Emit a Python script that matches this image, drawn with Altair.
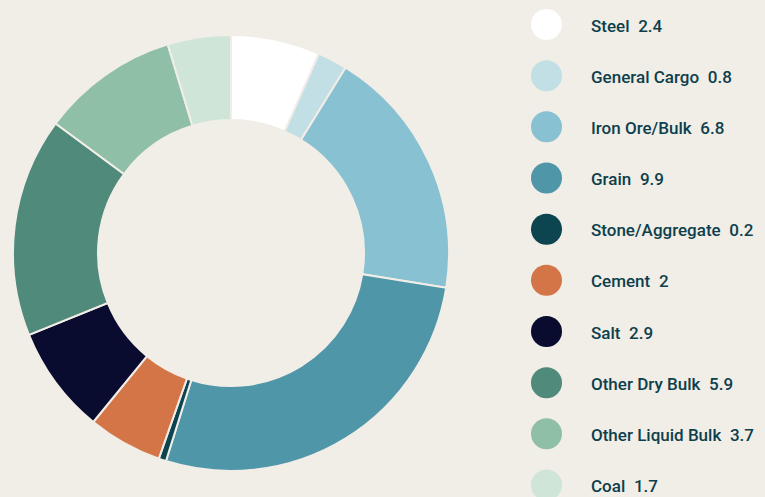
import altair as alt
import pandas as pd

categories = ["Steel", "General Cargo", "Iron Ore/Bulk", "Grain", "Stone/Aggregate",
              "Cement", "Salt", "Other Dry Bulk", "Other Liquid Bulk", "Coal"]
values = [2.4, 0.8, 6.8, 9.9, 0.2, 2, 2.9, 5.9, 3.7, 1.7]
colors = ["#ffffff", "#c3dfe6", "#88c1d1", "#4e96a8", "#0c4450",
          "#d47547", "#0a0c2f", "#4f8a7a", "#8fbfa6", "#cfe5d7"]
BG = "#f1ede7"

df = pd.DataFrame({
    "cat": categories,
    "value": values,
    "idx": list(range(len(categories))),
    "label": [f"{c}\u2002{v:g}" for c, v in zip(categories, values)],
})

color_scale = alt.Scale(domain=categories, range=colors)
base = alt.Chart(df)

donut = base.mark_arc(outerRadius=218, innerRadius=133, stroke=BG, strokeWidth=2).encode(
    theta=alt.Theta("value:Q", stack=True),
    color=alt.Color("cat:N", scale=color_scale, legend=None),
    order=alt.Order("idx:Q"),
    x=alt.value(231),
    y=alt.value(253),
)

yscale = alt.Scale(domain=[0, 9], range=[24.5, 485])

dots = base.mark_circle(size=962, opacity=1).encode(
    x=alt.value(546.5),
    y=alt.Y("idx:Q", scale=yscale, axis=None),
    color=alt.Color("cat:N", scale=color_scale, legend=None),
)

labels = base.mark_text(align="left", baseline="alphabetic", dy=7,
                        font="Roboto", fontSize=17, fontWeight=500,
                        color="#0d3f4c").encode(
    x=alt.value(591),
    y=alt.Y("idx:Q", scale=yscale, axis=None),
    text="label:N",
)

chart = alt.layer(donut, dots, labels).properties(
    width=765, height=497, padding=0, autosize="none", background=BG
).configure_view(stroke=None)

chart.save("out.html", embed_options={"renderer": "svg", "actions": False})
